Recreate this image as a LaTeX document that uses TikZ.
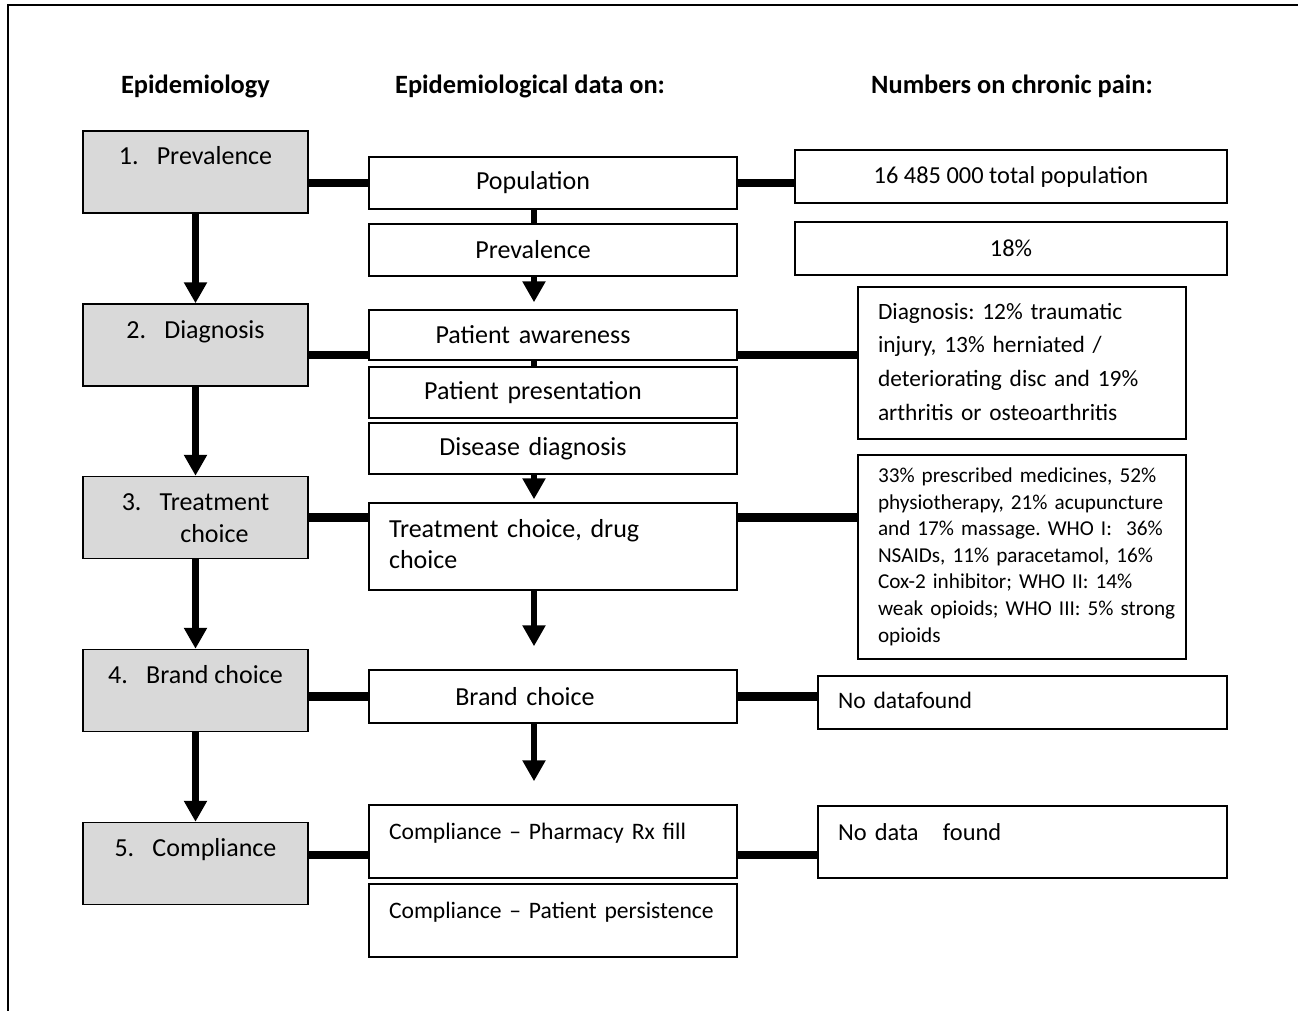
\documentclass[tikz,border=0pt]{standalone}
\usepackage{fontspec}
\setmainfont{Carlito}
\usepackage{tikz}
\usetikzlibrary{arrows.meta}
\frenchspacing
\tikzstyle{chart}=[
  x=0.5pt,y=-0.5pt,font=\fontsize{13}{16}\selectfont,line width=0.7pt
]
\tikzstyle{head}=[
  font=\fontsize{13.2}{16}\selectfont\bfseries
]
\tikzstyle{epibox}=[
  draw,fill=black!15,minimum width=112.5pt,inner sep=0pt,
  text height=17pt,text depth=24pt
]
\tikzstyle{databox}=[
  draw,fill=white,inner sep=0pt,text width=184pt,align=left
]
\tikzstyle{numbox}=[
  draw,fill=white,inner sep=0pt,font=\fontsize{12.2}{16}\selectfont
]
\tikzstyle{link}=[
  line width=4.3pt
]
\tikzstyle{stub}=[
  line width=3.2pt
]
\tikzstyle{flow}=[
  line width=3.2pt,-{Triangle[width=11pt,length=10.5pt]}
]
\newcommand{\leftlines}[1]{\hspace*{10pt}\begin{tabular}[t]{@{}l@{}}#1\end{tabular}}

\begin{document}
\begin{tikzpicture}[chart]
    \useasboundingbox (0,0) rectangle (1298,1011);
    \draw (1298,5) -- (8,5) -- (8,1011);
    % column heads
    \node (h1) at (195.5,86) [head] {Epidemiology};
    \node (h2) at (530,86) [head] {Epidemiological data on:};
    \node (h3) at (1012,86) [head] {Numbers on chronic pain:};
    % epidemiology steps
    \node (e1) at (195.5,172) [epibox] {1.\hspace{0.7em}Prevalence};
    \node (e2) at (195.5,345) [epibox] {2.\hspace{0.7em}Diagnosis};
    \node (e3) at (195.5,517.5) [epibox] {3.\hspace{0.7em}\begin{tabular}[t]{@{}c@{}}Treatment\\choice\end{tabular}};
    \node (e4) at (195.5,690.5) [epibox] {4.\hspace{0.7em}Brand choice};
    \node (e5) at (195.5,863.5) [epibox] {5.\hspace{0.7em}Compliance};
    % data column
    \node (pop) at (553,183) [databox,minimum height=26pt] {\makebox[164pt]{Population}};
    \node (prev) at (553,250) [databox,minimum height=26pt] {\makebox[164pt]{Prevalence}};
    \node (aware) at (553,335) [databox,minimum height=25pt] {\makebox[164pt]{Patient awareness}};
    \node (present) at (553,392.5) [databox,minimum height=25.5pt] {\makebox[164pt]{Patient presentation}};
    \node (disease) at (553,448.5) [databox,minimum height=25.5pt] {\makebox[164pt]{Disease diagnosis}};
    \node (treat) at (553,546.5) [databox,text height=17pt,text depth=26.5pt] {\leftlines{Treatment choice, drug\\choice}};
    \node (brand) at (553,696.5) [databox,minimum height=26.5pt] {\makebox[156pt]{Brand choice}};
    \node (rx) at (553,841.5) [databox,text height=17pt,text depth=19.5pt,font=\fontsize{11.8}{16}\selectfont] {\leftlines{Compliance -- Pharmacy Rx fill}};
    \node (persist) at (553,920.5) [databox,text height=17pt,text depth=19.5pt,font=\fontsize{11.8}{16}\selectfont] {\leftlines{Compliance -- Patient persistence}};
    % numbers column
    \node (total) at (1011,176.5) [numbox,minimum width=216pt,minimum height=26.5pt] {16 485 000 total population};
    \node (rate) at (1011,248.5) [numbox,minimum width=216pt,minimum height=26.5pt] {18\%};
    \node (diag) at (1022,363) [numbox,text width=164pt,align=left,minimum height=76pt,font=\fontsize{11.7}{16.8}\selectfont] {\leftlines{Diagnosis: 12\% traumatic\\injury, 13\% herniated /\\deteriorating disc and 19\%\\arthritis or osteoarthritis}};
    \node (drug) at (1022,557) [numbox,text width=164pt,align=left,minimum height=102pt,font=\fontsize{10.6}{13.3}\selectfont] {\leftlines{33\% prescribed medicines, 52\%\\physiotherapy,\ 21\% acupuncture\\and 17\% massage. WHO I:\ \ 36\%\\NSAIDs, 11\% paracetamol, 16\%\\Cox-2 inhibitor; WHO II: 14\%\\weak opioids; WHO III: 5\% strong\\opioids}};
    \node (nobrand) at (1022.5,702.5) [numbox,text width=204.5pt,align=left,minimum height=26.5pt,font=\fontsize{11.8}{16}\selectfont] {\leftlines{No datafound}};
    \node (nocomp) at (1022.5,842) [numbox,text width=204.5pt,align=left,text height=17pt,text depth=19pt] {\leftlines{No data\ \ \ found}};
    % levels of the links
    \coordinate (mx) at (534,0);
    \coordinate (r2) at (0,355);
    \coordinate (r5) at (0,855);
    % links between columns
    \draw [link] (e1.east |- pop.west) -- (pop.west);
    \draw [link] (pop.east) -- (pop.east -| total.west);
    \draw [link] (e2.east |- r2) -- (aware.west |- r2);
    \draw [link] (aware.east |- r2) -- (diag.west |- r2);
    \draw [link] (e3.east) -- (e3.east -| treat.west);
    \draw [link] (treat.east |- e3.east) -- (drug.west |- e3.east);
    \draw [link] (brand.west -| e4.east) -- (brand.west);
    \draw [link] (brand.east) -- (brand.east -| nobrand.west);
    \draw [link] (e5.east |- r5) -- (rx.west |- r5);
    \draw [link] (rx.east |- r5) -- (nocomp.west |- r5);
    % steps down
    \draw [flow] (e1) -- (e2);
    \draw [flow] (e2) -- (e3);
    \draw [flow] (e3) -- (e4);
    \draw [flow] (e4) -- (e5);
    \draw [stub] (pop.south -| mx) -- (prev.north -| mx);
    \draw [flow,shorten >=3.5pt] (prev.south -| mx) -- (aware.north -| mx);
    \draw [stub] (aware.south -| mx) -- (present.north -| mx);
    \draw [flow,shorten >=1.5pt] (disease.south -| mx) -- (treat.north -| mx);
    \draw [flow,shorten >=11.5pt] (treat.south -| mx) -- (brand.north -| mx);
    \draw [flow,shorten >=11.5pt] (brand.south -| mx) -- (rx.north -| mx);
\end{tikzpicture}
\end{document}
